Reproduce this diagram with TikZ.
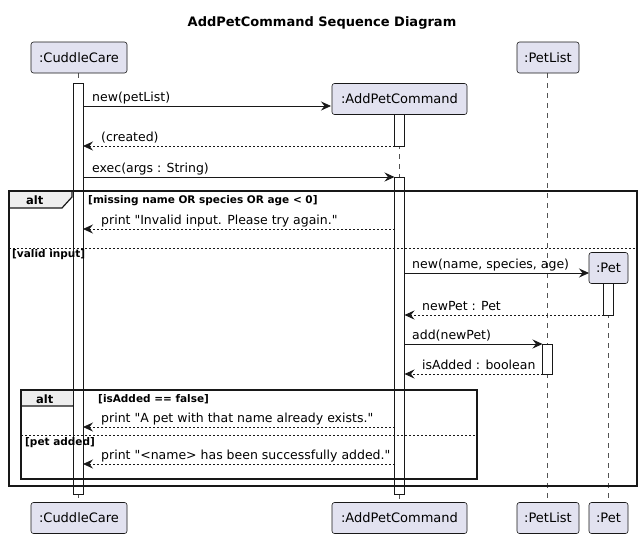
\documentclass[tikz,border=0pt]{standalone}
\usepackage{fontspec}
\setmainfont{DejaVu Sans}[Ligatures=TeXOff]
\usetikzlibrary{arrows.meta}
\definecolor{partfill}{HTML}{E2E2F0}
\definecolor{ink}{HTML}{181818}
\definecolor{tabfill}{HTML}{EEEEEE}
\begin{document}
\begin{tikzpicture}[x=1pt,y=-1pt,
  part/.style={draw=ink,fill=partfill,rounded corners=2.5pt,line width=0.6pt,inner sep=0pt,
    font=\fontsize{13}{15}\selectfont,text=black,minimum height=31pt},
  bar/.style={draw=ink,fill=white,line width=0.8pt},
  life/.style={draw=ink!75,line width=0.5pt,dash pattern=on 5pt off 5pt},
  msg/.style={draw=ink,line width=0.8pt,-{Stealth[length=10pt,width=9pt,inset=3.5pt]}},
  ret/.style={msg,dash pattern=on 2pt off 2pt},
  lbl/.style={font=\fontsize{12.5}{15}\selectfont,anchor=base west,inner sep=0pt,text=black},
  guard/.style={font=\bfseries\fontsize{10.5}{13}\selectfont,anchor=base west,inner sep=0pt},
  alttxt/.style={font=\bfseries\fontsize{11.5}{14}\selectfont,anchor=base west,inner sep=0pt},
  frame/.style={draw=ink,line width=1.5pt},
  tabstyle/.style={draw=ink,fill=tabfill,line width=1.2pt},
  sep/.style={draw=ink,line width=0.8pt,dash pattern=on 2pt off 2pt},
]
\useasboundingbox (0,0) rectangle (644,538);
\fill[white] (0,0) rectangle (644,538);

% title
\node[font=\bfseries\fontsize{13}{16}\selectfont] (title) at (322,23) {AddPetCommand Sequence Diagram};

% lifelines
\draw[life] (78,73) -- (78,503);
\draw[life] (399.5,114) -- (399.5,503);
\draw[life] (547.5,73) -- (547.5,503);
\draw[life] (608.5,283) -- (608.5,503);

% participants
\node[part,minimum width=96pt] (cTop) at (79,57.5) {:CuddleCare};
\node[part,minimum width=96pt] (cBot) at (79,518) {:CuddleCare};
\node[part,minimum width=135pt] (aTop) at (399.5,99) {:AddPetCommand};
\node[part,minimum width=135pt] (aBot) at (399.5,518) {:AddPetCommand};
\node[part,minimum width=62pt] (lTop) at (548,57.5) {:PetList};
\node[part,minimum width=62pt] (lBot) at (548,518) {:PetList};
\node[part,minimum width=39pt] (pTop) at (608.5,268) {:Pet};
\node[part,minimum width=39pt] (pBot) at (608.5,518) {:Pet};

% tabs
\draw[tabstyle] (9,191) -- (72,191) -- (72,197) -- (62,208) -- (9,208) -- cycle;
\draw[tabstyle] (21,390) -- (82,390) -- (82,396) -- (73,406) -- (21,406) -- cycle;

% activation bars
\draw[bar] (73,83) rectangle (83,494);
\draw[bar] (394.5,114) rectangle (404.5,146);
\draw[bar] (394.5,177) rectangle (404.5,494);
\draw[bar] (542.5,344) rectangle (552.5,374);
\draw[bar] (603.5,283) rectangle (613.5,315);

% frames
\draw[frame] (9,191) rectangle (637,486);
\draw[sep] (9,248) -- (637,248);
\draw[frame] (21,390) rectangle (477,479);
\draw[sep] (21,435) -- (477,435);

\node[alttxt] (alt1) at (26,204) {alt};
\node[alttxt] (alt2) at (36,403) {alt};
\node[guard] (g1) at (88,203) {[missing name OR species OR age < 0]};
\node[guard] (g2) at (12,257) {[valid input]};
\node[guard] (g3) at (98,402) {[isAdded == false]};
\node[guard] (g4) at (25,445) {[pet added]};

% message endpoints
\coordinate (m1s) at (83,106);    \coordinate (m1e) at (331,106);
\coordinate (m2s) at (394.5,146); \coordinate (m2e) at (83,146);
\coordinate (m3s) at (83,177);    \coordinate (m3e) at (394.5,177);
\coordinate (m4s) at (394.5,229); \coordinate (m4e) at (83,229);
\coordinate (m5s) at (404.5,273); \coordinate (m5e) at (589,273);
\coordinate (m6s) at (603.5,315); \coordinate (m6e) at (404.5,315);
\coordinate (m7s) at (404.5,344); \coordinate (m7e) at (542.5,344);
\coordinate (m8s) at (542.5,374); \coordinate (m8e) at (404.5,374);
\coordinate (m9s) at (394.5,427); \coordinate (m9e) at (83,427);
\coordinate (m10s) at (394.5,464); \coordinate (m10e) at (83,464);

\draw[msg] (m1s) -- (m1e);
\draw[ret] (m2s) -- (m2e);
\draw[msg] (m3s) -- (m3e);
\draw[ret] (m4s) -- (m4e);
\draw[msg] (m5s) -- (m5e);
\draw[ret] (m6s) -- (m6e);
\draw[msg] (m7s) -- (m7e);
\draw[ret] (m8s) -- (m8e);
\draw[ret] (m9s) -- (m9e);
\draw[ret] (m10s) -- (m10e);

\node[lbl] (l1) at (92,101) {new(petList)};
\node[lbl] (l2) at (101,141) {(created)};
\node[lbl] (l3) at (92,172) {exec(args : String)};
\node[lbl] (l4) at (101,224) {print "Invalid input. Please try again."};
\node[lbl] (l5) at (412,268) {new(name, species, age)};
\node[lbl] (l6) at (422,310) {newPet : Pet};
\node[lbl] (l7) at (412,339) {add(newPet)};
\node[lbl] (l8) at (422,369) {isAdded : boolean};
\node[lbl] (l9) at (101,422) {print "A pet with that name already exists."};
\node[lbl] (l10) at (101,459) {print "<name> has been successfully added."};
\end{tikzpicture}
\end{document}
